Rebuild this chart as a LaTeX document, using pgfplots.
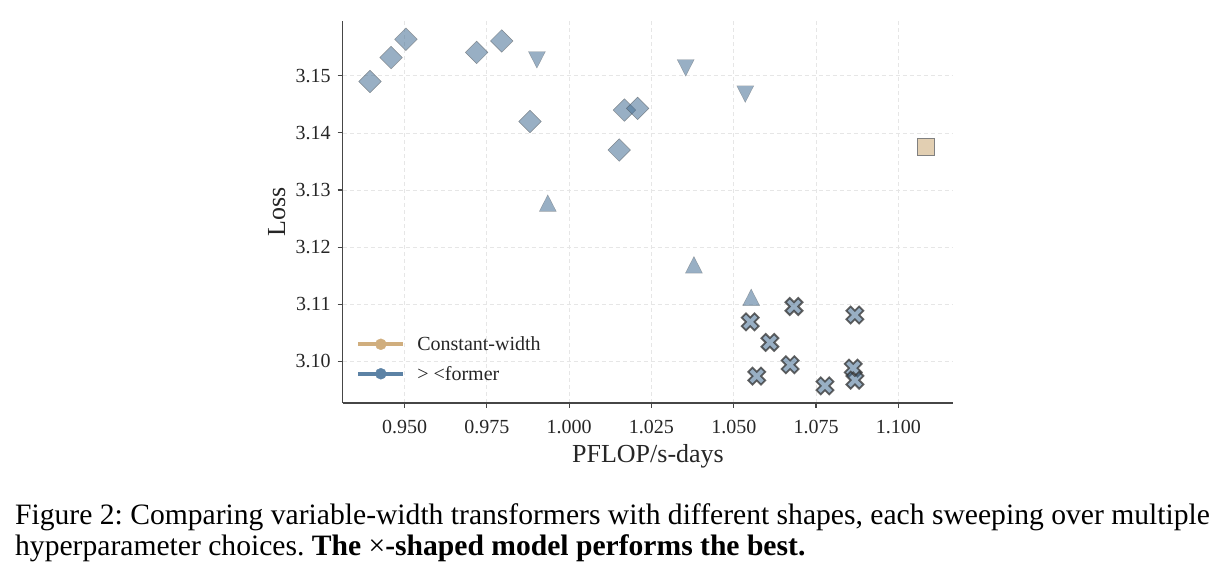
\documentclass[border=0pt]{standalone}
\usepackage{fontspec}
\setmainfont{Liberation Serif}
\usepackage{pgfplots}
\usepackage{pgfplotstable}
\pgfplotsset{compat=1.18}
\frenchspacing

\definecolor{shapeblue}{RGB}{68,110,148}
\definecolor{legendblue}{RGB}{92,130,165}
\definecolor{legendtan}{RGB}{208,174,126}
\definecolor{squaretan}{RGB}{226,207,178}
\definecolor{spine}{RGB}{70,70,70}
\definecolor{gridgray}{RGB}{230,230,230}

% marker shapes (sizes in bp, centred on the bounding box)
\pgfdeclareplotmark{bdiamond}{%
  \pgfpathmoveto{\pgfqpoint{0bp}{11.3bp}}%
  \pgfpathlineto{\pgfqpoint{11.3bp}{0bp}}%
  \pgfpathlineto{\pgfqpoint{0bp}{-11.3bp}}%
  \pgfpathlineto{\pgfqpoint{-11.3bp}{0bp}}%
  \pgfpathclose\pgfusepathqfillstroke}
\pgfdeclareplotmark{btriup}{%
  \pgfpathmoveto{\pgfqpoint{0bp}{8.3bp}}%
  \pgfpathlineto{\pgfqpoint{8.5bp}{-8.3bp}}%
  \pgfpathlineto{\pgfqpoint{-8.5bp}{-8.3bp}}%
  \pgfpathclose\pgfusepathqfillstroke}
\pgfdeclareplotmark{btridown}{%
  \pgfpathmoveto{\pgfqpoint{0bp}{-8.3bp}}%
  \pgfpathlineto{\pgfqpoint{8.5bp}{8.3bp}}%
  \pgfpathlineto{\pgfqpoint{-8.5bp}{8.3bp}}%
  \pgfpathclose\pgfusepathqfillstroke}
\pgfdeclareplotmark{bsquare}{%
  \pgfpathrectangle{\pgfqpoint{-8.5bp}{-8.5bp}}{\pgfqpoint{17bp}{17bp}}%
  \pgfusepathqfillstroke}
\pgfdeclareplotmark{fatx}{%
  \pgfpathmoveto{\pgfqpoint{4.25bp}{0bp}}%
  \pgfpathlineto{\pgfqpoint{8.5bp}{4.25bp}}%
  \pgfpathlineto{\pgfqpoint{4.25bp}{8.5bp}}%
  \pgfpathlineto{\pgfqpoint{0bp}{4.25bp}}%
  \pgfpathlineto{\pgfqpoint{-4.25bp}{8.5bp}}%
  \pgfpathlineto{\pgfqpoint{-8.5bp}{4.25bp}}%
  \pgfpathlineto{\pgfqpoint{-4.25bp}{0bp}}%
  \pgfpathlineto{\pgfqpoint{-8.5bp}{-4.25bp}}%
  \pgfpathlineto{\pgfqpoint{-4.25bp}{-8.5bp}}%
  \pgfpathlineto{\pgfqpoint{0bp}{-4.25bp}}%
  \pgfpathlineto{\pgfqpoint{4.25bp}{-8.5bp}}%
  \pgfpathlineto{\pgfqpoint{8.5bp}{-4.25bp}}%
  \pgfpathclose\pgfusepathqfillstroke}

% compute (PFLOP/s-days) vs. final loss for each model shape
\pgfplotstableread{
x      y
0.9395 3.1490
0.9459 3.1532
0.9504 3.1564
0.9719 3.1541
0.9795 3.1561
0.9881 3.1420
1.0168 3.1440
1.0208 3.1443
1.0152 3.1370
}\diamondshape
\pgfplotstableread{
x      y
0.9902 3.1528
1.0354 3.1514
1.0535 3.1468
}\vshape
\pgfplotstableread{
x      y
0.9935 3.1277
1.0379 3.1169
1.0553 3.1112
}\ashape
\pgfplotstableread{
x      y
1.1082 3.1375
}\constwidth
\pgfplotstableread{
x      y
1.0550 3.1069
1.0683 3.1096
1.0610 3.1033
1.0570 3.0974
1.0671 3.0994
1.0777 3.0957
1.0868 3.1081
1.0863 3.0988
1.0868 3.0967
}\xshape

\begin{document}
\begin{tikzpicture}
\path[use as bounding box] (0,0) rectangle (1219bp,581bp);
\begin{axis}[
  at={(342.7bp,178bp)}, anchor=south west,
  scale only axis, width=610.6bp, height=382bp,
  xmin=0.9312, xmax=1.1167, ymin=3.0927, ymax=3.1596,
  axis lines*=left, clip=false,
  axis line style={spine, line width=1.1bp},
  tick align=outside, major tick length=5bp,
  major tick style={spine, line width=1.1bp},
  xtick={0.95,0.975,1.0,1.025,1.05,1.075,1.1},
  ytick={3.10,3.11,3.12,3.13,3.14,3.15},
  scaled ticks=false,
  grid=major,
  major grid style={gridgray, dash pattern=on 4bp off 3bp, line width=0.8bp},
  x tick label style={font=\fontsize{20bp}{24bp}\selectfont, text=black!85,
    inner sep=0pt, anchor=base, yshift=-26bp,
    /pgf/number format/.cd, fixed, fixed zerofill, precision=3, assume math mode=true},
  y tick label style={font=\fontsize{20bp}{24bp}\selectfont, text=black!85,
    inner sep=0pt, anchor=base east, xshift=-7bp, yshift=-6.5bp,
    /pgf/number format/.cd, fixed, fixed zerofill, precision=2, assume math mode=true},
  xlabel={PFLOP/s-days}, ylabel={Loss},
  label style={font=\fontsize{26bp}{30bp}\selectfont, text=black!85, inner sep=0pt},
  xlabel style={at={(axis description cs:0.5,-0.157)}, anchor=base},
  ylabel style={at={(axis description cs:-0.0945,0.5)}, anchor=base, rotate=0},
  legend style={draw=none, fill=none, inner sep=0pt,
    at={(axis description cs:0.022,0.115)}, anchor=west,
    font=\fontsize{20bp}{24bp}\selectfont, text=black!85,
    column sep=12bp, row sep=14bp, nodes={inner sep=0pt}},
  legend cell align=left,
]
\addlegendimage{legend image code/.code={%
  \draw[legendtan, line width=4bp] (0bp,0bp) -- (45bp,0bp);
  \fill[legendtan] (22.5bp,0bp) circle (5.5bp);}}
\addlegendentry{Constant-width}
\addlegendimage{legend image code/.code={%
  \draw[legendblue, line width=4bp] (0bp,0bp) -- (45bp,0bp);
  \fill[legendblue] (22.5bp,0bp) circle (5.5bp);}}
\addlegendentry{> <former}

\addplot[forget plot, only marks, mark=bdiamond, mark options={fill=shapeblue,
  fill opacity=0.55, draw=black!70, draw opacity=0.5, line width=0.5bp}] table {\diamondshape};
\addplot[forget plot, only marks, mark=btridown, mark options={fill=shapeblue,
  fill opacity=0.55, draw=black!70, draw opacity=0.4, line width=0.4bp}] table {\vshape};
\addplot[forget plot, only marks, mark=btriup, mark options={fill=shapeblue,
  fill opacity=0.55, draw=black!70, draw opacity=0.4, line width=0.4bp}] table {\ashape};
\addplot[forget plot, only marks, mark=bsquare, mark options={fill=squaretan,
  draw=black!50, line width=0.6bp}] table {\constwidth};
\addplot[forget plot, only marks, mark=fatx, mark options={fill=shapeblue,
  fill opacity=0.55, draw=black!80, draw opacity=0.75, line width=1.8bp}] table {\xshape};
\end{axis}

\node[anchor=base west, inner sep=0pt, font=\fontsize{29.6bp}{31bp}\selectfont]
  at (15bp,56.7bp) {Figure 2: Comparing variable-width transformers with different shapes, each sweeping over multiple};
\node[anchor=base west, inner sep=0pt, font=\fontsize{29.6bp}{31bp}\selectfont]
  at (15bp,25.7bp) {hyperparameter choices. \textbf{The} ×\textbf{-shaped model performs the best.}};
\end{tikzpicture}
\end{document}
